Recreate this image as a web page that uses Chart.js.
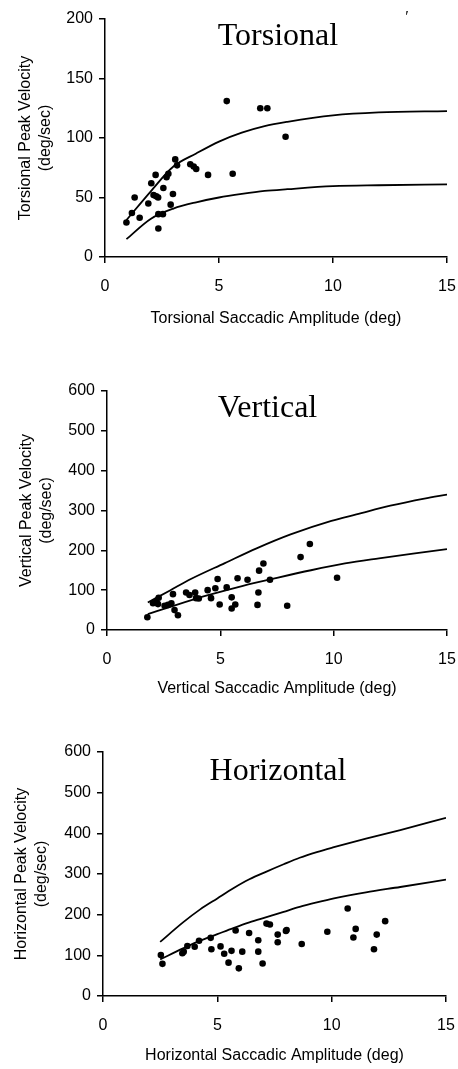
<!DOCTYPE html>
<html>
<head>
<meta charset="utf-8">
<script src="https://cdn.jsdelivr.net/npm/chart.js"></script>
<style>
  html, body { margin: 0; padding: 0; background: #fff; }
  body { width: 458px; height: 1069px; position: relative; overflow: hidden; }
  .panel { position: absolute; left: 0; width: 458px; }
</style>
</head>
<body>
<div class="panel" style="top:0px"><canvas id="torsional" width="458" height="328"></canvas></div>
<div class="panel" style="top:372px"><canvas id="vertical" width="458" height="326"></canvas></div>
<div class="panel" style="top:733px"><canvas id="horizontal" width="458" height="332"></canvas></div>
<script>
// ---- Torsional ----
const torsAmp = [0.94, 1.18, 1.3, 1.52, 1.9, 2.03, 2.13, 2.22, 2.25, 2.33, 2.34, 2.34, 2.54, 2.56, 2.7, 2.78, 2.88, 2.98, 3.08, 3.16, 3.74, 3.89, 4.0, 4.52, 5.34, 5.6, 6.81, 7.12, 7.92];
const torsVel = [29, 37, 50, 33, 45, 62, 52, 69, 51, 50, 36, 24, 36, 58, 67, 70, 44, 53, 82, 77, 78, 76, 74, 69, 131, 70, 125, 125, 101];
const torsCurveAmp = [0.94, 2, 3, 4, 5, 6, 7, 8, 10, 12, 15];
const torsUpper = [31, 55, 76, 87, 97, 104.5, 110, 113.6, 119, 121.5, 122.6];
const torsLower = [15, 32, 40.7, 46, 50, 53, 55.5, 57, 59.5, 60.3, 61];

// ---- Vertical ----
const vertAmp = [1.78, 2.03, 2.18, 2.28, 2.25, 2.54, 2.69, 2.84, 2.91, 2.98, 3.13, 3.49, 3.64, 3.89, 3.93, 4.05, 4.44, 4.59, 4.78, 4.88, 4.97, 5.28, 5.5, 5.5, 5.66, 5.76, 6.2, 6.68, 6.64, 6.71, 6.9, 7.19, 7.95, 8.54, 8.95, 10.15];
const vertVel = [32, 67, 71, 81, 65, 61, 63, 67, 90, 50, 37, 94, 88, 94, 80, 79, 100, 80, 105, 128, 64, 107, 82, 54, 64, 130, 126, 94, 63, 149, 167, 126, 61, 183, 216, 131];
const vertUpperAmp = [1.8, 2.8, 3.7, 5.2, 6.6, 8.1, 9.9, 11, 12.5, 14, 15];
const vertUpper = [69, 100, 128, 168, 205, 240, 274, 290, 312, 330, 340];
const vertLowerAmp = [1.8, 3, 4.5, 6, 7.5, 9, 10.5, 12, 13.5, 15];
const vertLower = [40, 62, 88, 111, 131, 150, 167, 180, 192, 203];

// ---- Horizontal ----
const horzAmp = [2.53, 2.6, 3.47, 3.53, 3.69, 4.01, 4.2, 4.71, 4.74, 5.14, 5.3, 5.49, 5.62, 5.8, 5.94, 6.09, 6.39, 6.79, 6.79, 6.98, 7.15, 7.3, 7.64, 7.64, 8.0, 8.03, 8.69, 9.81, 10.7, 10.95, 11.05, 11.85, 11.97, 12.34];
const horzVel = [101, 79, 105, 109, 123, 121, 136, 143, 115, 122, 104, 82, 111, 161, 68, 109, 155, 137, 109, 80, 178, 176, 151, 132, 160, 162, 128, 158, 215, 144, 165, 115, 151, 184];
const horzCurveAmp = [2.5, 3.5, 4.25, 5, 5.7, 6.4, 7.15, 7.9, 8.6, 9.35, 10.1, 11.5, 13, 15];
const horzUpper = [133, 181, 213, 240, 265, 287, 306, 324, 340, 354, 366, 387, 408, 438];
const horzLower = [90, 117, 136, 152, 167, 181, 194, 207, 219, 230, 240, 255, 268, 286];

const xTicks = [0, 5, 10, 15];

Chart.defaults.font.family = '"Liberation Sans", Arial, Helvetica, sans-serif';
Chart.defaults.color = '#000';

// big serif title sitting inside the plot area
const panelTitle = {
  id: 'panelTitle',
  afterDraw(chart, args, opts) {
    const ctx = chart.ctx;
    const a = chart.chartArea;
    ctx.save();
    ctx.fillStyle = '#000';
    ctx.textAlign = 'center';
    ctx.textBaseline = 'alphabetic';
    ctx.font = '32px "Liberation Serif", "Times New Roman", serif';
    ctx.fillText(opts.text, a.left + opts.dx, a.top + opts.dy);
    if (opts.mark) {
      ctx.font = 'italic 16px "Liberation Serif", serif';
      ctx.fillText(opts.mark, a.left + opts.markDx, a.top + opts.markDy);
    }
    ctx.restore();
  }
};

function pts(xs, ys) {
  return xs.map((x, i) => ({ x: x, y: ys[i] }));
}

function curve(xs, ys) {
  return {
    type: 'line',
    data: pts(xs, ys),
    showLine: true,
    borderColor: '#000',
    borderWidth: 1.8,
    pointRadius: 0,
    fill: false,
    cubicInterpolationMode: 'monotone'
  };
}

function makePanel(id, p) {
  const axisFont = { size: 16 };
  new Chart(document.getElementById(id), {
    type: 'scatter',
    data: {
      datasets: [
        curve(p.upperAmp, p.upper),
        curve(p.lowerAmp, p.lower),
        {
          data: pts(p.amp, p.vel),
          backgroundColor: '#000',
          borderColor: '#000',
          borderWidth: 0,
          pointRadius: 3.3
        }
      ]
    },
    options: {
      responsive: false,
      animation: false,
      layout: { padding: { top: 19, right: p.padRight, left: 0, bottom: 0 } },
      plugins: {
        legend: { display: false },
        tooltip: { enabled: false },
        panelTitle: p.title
      },
      scales: {
        x: {
          type: 'linear',
          min: 0, max: 15,
          afterBuildTicks: s => { s.ticks = xTicks.map(v => ({ value: v })); },
          ticks: { font: axisFont, padding: 14, maxRotation: 0, color: '#000' },
          grid: { drawOnChartArea: false, drawTicks: true, tickLength: 6, color: '#000', lineWidth: 1.5 },
          border: { color: '#000', width: 1.5 },
          title: { display: true, text: p.xTitle, font: { size: 16 }, color: '#000', padding: 0 },
          afterFit: s => {
            s.height = p.xH;
            s.paddingLeft = 0;
            s.paddingRight = 0;
          }
        },
        y: {
          type: 'linear',
          min: 0, max: p.yMax,
          ticks: { stepSize: p.yStep, font: axisFont, padding: 6, color: '#000' },
          grid: { drawOnChartArea: false, drawTicks: true, tickLength: 6, color: '#000', lineWidth: 1.5 },
          border: { color: '#000', width: 1.5 },
          title: {
            display: true,
            text: p.yTitle,
            font: { size: 16, lineHeight: 1.25 },
            color: '#000',
            padding: { top: p.yTitlePad, bottom: 0 }
          },
          afterFit: s => {
            s.width = p.yW;
            s.paddingTop = 0;
            s.paddingBottom = 0;
          }
        }
      }
    },
    plugins: [panelTitle]
  });
}

makePanel('torsional', {
  amp: torsAmp, vel: torsVel,
  upperAmp: torsCurveAmp, upper: torsUpper,
  lowerAmp: torsCurveAmp, lower: torsLower,
  yMax: 200, yStep: 50,
  xTitle: 'Torsional Saccadic Amplitude (deg)',
  yTitle: ['Torsional Peak Velocity', '(deg/sec)'],
  yW: 105, xH: 71, padRight: 11, yTitlePad: 16,
  title: { text: 'Torsional', dx: 173, dy: 26, mark: '\u2032', markDx: 301, markDy: 3 }
});

makePanel('vertical', {
  amp: vertAmp, vel: vertVel,
  upperAmp: vertUpperAmp, upper: vertUpper,
  lowerAmp: vertLowerAmp, lower: vertLower,
  yMax: 600, yStep: 100,
  xTitle: 'Vertical Saccadic Amplitude (deg)',
  yTitle: ['Vertical Peak Velocity', '(deg/sec)'],
  yW: 107, xH: 68, padRight: 11, yTitlePad: 17,
  title: { text: 'Vertical', dx: 160.5, dy: 26 }
});

makePanel('horizontal', {
  amp: horzAmp, vel: horzVel,
  upperAmp: horzCurveAmp, upper: horzUpper,
  lowerAmp: horzCurveAmp, lower: horzLower,
  yMax: 600, yStep: 100,
  xTitle: 'Horizontal Saccadic Amplitude (deg)',
  yTitle: ['Horizontal Peak Velocity', '(deg/sec)'],
  yW: 103, xH: 69, padRight: 12, yTitlePad: 12,
  title: { text: 'Horizontal', dx: 175, dy: 28 }
});
</script>
</body>
</html>
